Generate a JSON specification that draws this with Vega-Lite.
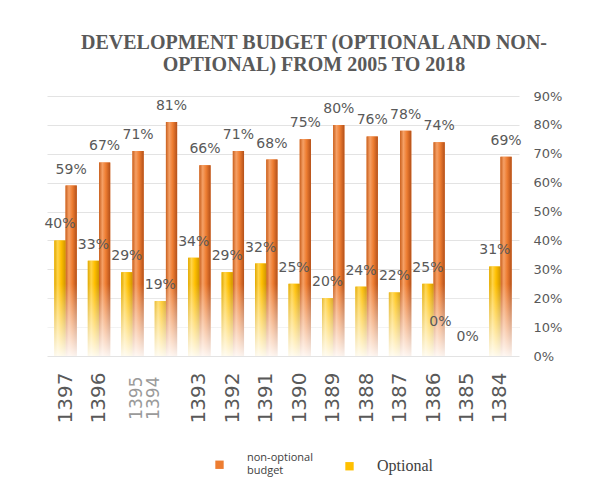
{
  "$schema": "https://vega.github.io/schema/vega-lite/v6.json",
  "autosize": "none",
  "width": 472,
  "height": 260,
  "padding": {"left": 47, "top": 96, "right": 89, "bottom": 141},
  "background": "white",
  "title": {
    "text": ["DEVELOPMENT BUDGET (OPTIONAL AND NON-", "OPTIONAL) FROM 2005 TO 2018"],
    "font": "Liberation Serif",
    "fontSize": 20,
    "fontWeight": "bold",
    "color": "#595959",
    "anchor": "middle",
    "frame": "group",
    "dx": 31,
    "offset": 15,
    "lineHeight": 22
  },
  "config": {
    "view": {"stroke": null},
    "font": "DejaVu Sans"
  },
  "data": {
    "values": [
      {"year": "1397", "type": "Optional", "value": 0.40},
      {"year": "1397", "type": "non-optional budget", "value": 0.59},
      {"year": "1396", "type": "Optional", "value": 0.33},
      {"year": "1396", "type": "non-optional budget", "value": 0.67},
      {"year": "1395", "type": "Optional", "value": 0.29},
      {"year": "1395", "type": "non-optional budget", "value": 0.71},
      {"year": "1394", "type": "Optional", "value": 0.19},
      {"year": "1394", "type": "non-optional budget", "value": 0.81},
      {"year": "1393", "type": "Optional", "value": 0.34},
      {"year": "1393", "type": "non-optional budget", "value": 0.66},
      {"year": "1392", "type": "Optional", "value": 0.29},
      {"year": "1392", "type": "non-optional budget", "value": 0.71},
      {"year": "1391", "type": "Optional", "value": 0.32},
      {"year": "1391", "type": "non-optional budget", "value": 0.68},
      {"year": "1390", "type": "Optional", "value": 0.25},
      {"year": "1390", "type": "non-optional budget", "value": 0.75},
      {"year": "1389", "type": "Optional", "value": 0.20},
      {"year": "1389", "type": "non-optional budget", "value": 0.80},
      {"year": "1388", "type": "Optional", "value": 0.24},
      {"year": "1388", "type": "non-optional budget", "value": 0.76},
      {"year": "1387", "type": "Optional", "value": 0.22},
      {"year": "1387", "type": "non-optional budget", "value": 0.78},
      {"year": "1386", "type": "Optional", "value": 0.25},
      {"year": "1386", "type": "non-optional budget", "value": 0.74},
      {"year": "1385", "type": "Optional", "value": 0.0},
      {"year": "1385", "type": "non-optional budget", "value": 0.0},
      {"year": "1384", "type": "Optional", "value": 0.31},
      {"year": "1384", "type": "non-optional budget", "value": 0.69}
    ]
  },
  "encoding": {
    "x": {
      "field": "year",
      "type": "nominal",
      "sort": null,
      "scale": {"paddingInner": 0.33, "paddingOuter": 0.22},
      "axis": {
        "title": null,
        "labelAngle": -90,
        "labelFontSize": {"condition": {"test": "datum.value == '1395' || datum.value == '1394'", "value": 17}, "value": 20},
        "labelColor": {"condition": {"test": "datum.value == '1395' || datum.value == '1394'", "value": "#9a9a9a"}, "value": "#595959"},
        "labelOffset": {"condition": [{"test": "datum.value == '1395'", "value": 5}, {"test": "datum.value == '1394'", "value": -12}], "value": 0},
        "labelPadding": {"condition": {"test": "datum.value == '1395' || datum.value == '1394'", "value": 20}, "value": 16},
        "domain": false,
        "ticks": false,
        "grid": false
      }
    },
    "xOffset": {
      "field": "type",
      "type": "nominal",
      "scale": {"domain": ["Optional", "non-optional budget"]}
    },
    "y": {
      "field": "value",
      "type": "quantitative",
      "scale": {"domain": [0, 0.9], "nice": false},
      "axis": {
        "orient": "right",
        "title": null,
        "values": [0, 0.1, 0.2, 0.3, 0.4, 0.5, 0.6, 0.7, 0.8, 0.9],
        "format": ".0%",
        "grid": true,
        "gridColor": "#e3e3e3",
        "domain": false,
        "ticks": false,
        "labelPadding": 14,
        "labelFontSize": 13,
        "labelColor": "#595959"
      }
    }
  },
  "layer": [
    {
      "mark": {"type": "bar"},
      "encoding": {
        "color": {
          "field": "type",
          "type": "nominal",
          "scale": {"domain": ["non-optional budget", "Optional"], "range": ["#ED7D31", "#FFC000"]},
          "legend": {
            "title": null,
            "orient": "none",
            "direction": "horizontal",
            "legendX": 167,
            "legendY": 363,
            "symbolType": "square",
            "symbolSize": 70,
            "labelOffset": 22,
            "columnPadding": 31,
            "labelFontSize": 11,
            "labelColor": "#404040",
            "labelFont": "Open Sans",
            "encode": {
              "labels": {
                "update": {
                  "text": {"signal": "datum.value == 'Optional' ? 'Optional' : ['non-optional', 'budget']"},
                  "font": {"signal": "datum.value == 'Optional' ? 'Liberation Serif' : 'Open Sans'"},
                  "fontSize": {"signal": "datum.value == 'Optional' ? 16 : 11"},
                  "dy": {"signal": "datum.value == 'Optional' ? 0 : -7"}
                }
              }
            }
          }
        }
      }
    },
    {
      "transform": [{"filter": "datum.type == 'non-optional budget'"}],
      "mark": {
        "type": "bar",
        "fill": {
          "gradient": "linear", "x1": 0, "y1": 0, "x2": 1, "y2": 0,
          "stops": [
            {"offset": 0, "color": "#c9601e"},
            {"offset": 0.3, "color": "#f5a066"},
            {"offset": 0.6, "color": "#ee7d31"},
            {"offset": 1, "color": "#b3501a"}
          ]
        }
      }
    },
    {
      "transform": [{"filter": "datum.type == 'Optional'"}],
      "mark": {
        "type": "bar",
        "fill": {
          "gradient": "linear", "x1": 0, "y1": 0, "x2": 1, "y2": 0,
          "stops": [
            {"offset": 0, "color": "#e0a800"},
            {"offset": 0.3, "color": "#ffd44a"},
            {"offset": 0.6, "color": "#ffc000"},
            {"offset": 1, "color": "#d09500"}
          ]
        }
      }
    },
    {
      "data": {"values": [{"top": 0.25, "bottom": 0}]},
      "mark": {
        "type": "rect",
        "fill": {
          "gradient": "linear", "x1": 0, "y1": 0, "x2": 0, "y2": 1,
          "stops": [
            {"offset": 0, "color": "rgba(255,255,255,0)"},
            {"offset": 1, "color": "rgba(255,255,255,0.92)"}
          ]
        }
      },
      "encoding": {
        "x": null,
        "xOffset": null,
        "y": {"field": "top", "type": "quantitative"},
        "y2": {"field": "bottom"}
      }
    },
    {
      "transform": [{"filter": "datum.value > 0"}],
      "mark": {"type": "text", "baseline": "alphabetic", "dy": -12, "fontSize": 14, "color": "#595959", "font": "DejaVu Sans"},
      "encoding": {
        "text": {"field": "value", "type": "quantitative", "format": ".0%"}
      }
    },
    {
      "transform": [{"filter": "datum.value == 0 && datum.type == 'Optional'"}],
      "mark": {"type": "text", "baseline": "alphabetic", "dx": -21, "dy": -30, "fontSize": 14, "color": "#595959", "font": "DejaVu Sans"},
      "encoding": {
        "text": {"field": "value", "type": "quantitative", "format": ".0%"}
      }
    },
    {
      "transform": [{"filter": "datum.value == 0 && datum.type == 'non-optional budget'"}],
      "mark": {"type": "text", "baseline": "alphabetic", "dx": -5, "dy": -15, "fontSize": 14, "color": "#595959", "font": "DejaVu Sans"},
      "encoding": {
        "text": {"field": "value", "type": "quantitative", "format": ".0%"}
      }
    }
  ]
}
